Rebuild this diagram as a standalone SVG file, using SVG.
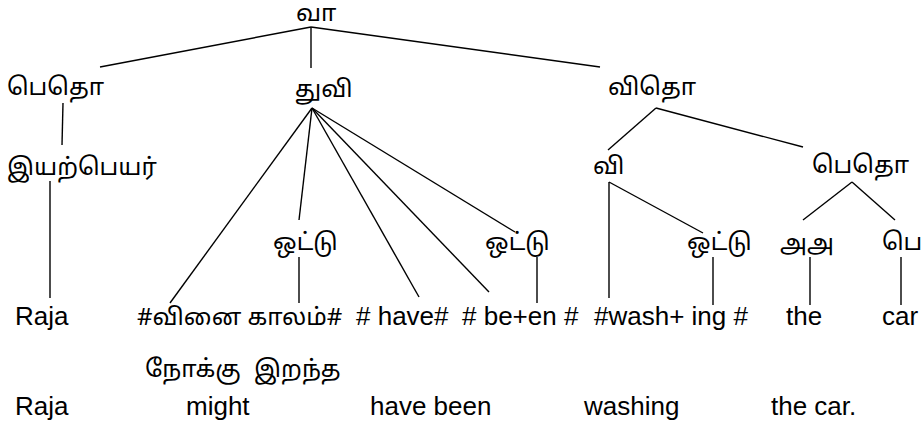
<svg xmlns="http://www.w3.org/2000/svg" width="921" height="426" viewBox="0 0 921 426">
<style>
text{font-family:"Liberation Sans",Arial,"Noto Sans Tamil","Lohit Tamil",sans-serif;font-size:26px;fill:#000}
.ta{font-family:"Noto Sans Tamil","Lohit Tamil","Noto Serif Tamil","Liberation Sans",sans-serif;font-size:24px}
line{stroke:#000;stroke-width:1.4}
</style>
<rect width="921" height="426" fill="#fff"/>
<g id="connectors">
<line x1="311" y1="27" x2="100" y2="67"/>
<line x1="311" y1="27" x2="311" y2="68"/>
<line x1="311" y1="27" x2="600" y2="67"/>
<line x1="63" y1="103" x2="62" y2="145"/>
<line x1="50" y1="181" x2="50" y2="298"/>
<line x1="312" y1="108" x2="170" y2="303"/>
<line x1="312" y1="108" x2="299" y2="220"/>
<line x1="312" y1="108" x2="419" y2="297"/>
<line x1="312" y1="108" x2="489" y2="292"/>
<line x1="312" y1="108" x2="515" y2="232"/>
<line x1="299" y1="257" x2="299" y2="303"/>
<line x1="537" y1="257" x2="537" y2="303"/>
<line x1="656" y1="108" x2="608" y2="150"/>
<line x1="656" y1="108" x2="803" y2="147"/>
<line x1="609" y1="182" x2="609" y2="298"/>
<line x1="609" y1="182" x2="703" y2="233"/>
<line x1="713" y1="257" x2="713" y2="305"/>
<line x1="852" y1="182" x2="803" y2="220"/>
<line x1="852" y1="182" x2="895" y2="220"/>
<line x1="810" y1="257" x2="810" y2="305"/>
<line x1="901" y1="257" x2="901" y2="305"/>
</g>
<g id="n-va"><text class="ta" x="296" y="21">வா</text></g>
<g id="n-pedho1"><text class="ta" x="7" y="95">பெதொ</text></g>
<g id="n-thuvi"><text class="ta" x="295" y="97">துவி</text></g>
<g id="n-vidho"><text class="ta" x="608" y="95">விதொ</text></g>
<g id="n-iyarpeyar"><text class="ta" x="7" y="175">இயற்பெயர்</text></g>
<g id="n-vi"><text class="ta" x="593" y="174">வி</text></g>
<g id="n-pedho2"><text class="ta" x="812" y="173">பெதொ</text></g>
<g id="n-ottu1"><text class="ta" x="273" y="250">ஒட்டு</text></g>
<g id="n-ottu2"><text class="ta" x="485" y="250">ஒட்டு</text></g>
<g id="n-ottu3"><text class="ta" x="687" y="250">ஒட்டு</text></g>
<g id="n-aa"><text class="ta" x="780" y="251">அஅ</text></g>
<g id="n-pe"><text class="ta" x="882" y="250">பெ</text></g>
<g id="n-raja"><text x="15" y="325">Raja</text></g>
<g id="n-vinai"><text class="ta" x="137" y="325">#வினை காலம்#</text></g>
<g id="n-have"><text x="356" y="325"># have#</text></g>
<g id="n-been"><text x="462" y="325"># be+en #</text></g>
<g id="n-wash"><text x="594" y="325">#wash+ ing #</text></g>
<g id="n-the"><text x="786" y="325">the</text></g>
<g id="n-car"><text x="882" y="325">car</text></g>
<g id="gloss">
<text class="ta" x="145" y="377">நோக்கு</text>
<text class="ta" x="254" y="377">இறந்த</text>
<text x="15" y="415">Raja</text>
<text x="186" y="415">might</text>
<text x="370" y="415">have been</text>
<text x="584" y="415">washing</text>
<text x="771" y="415">the car.</text>
</g>
</svg>
